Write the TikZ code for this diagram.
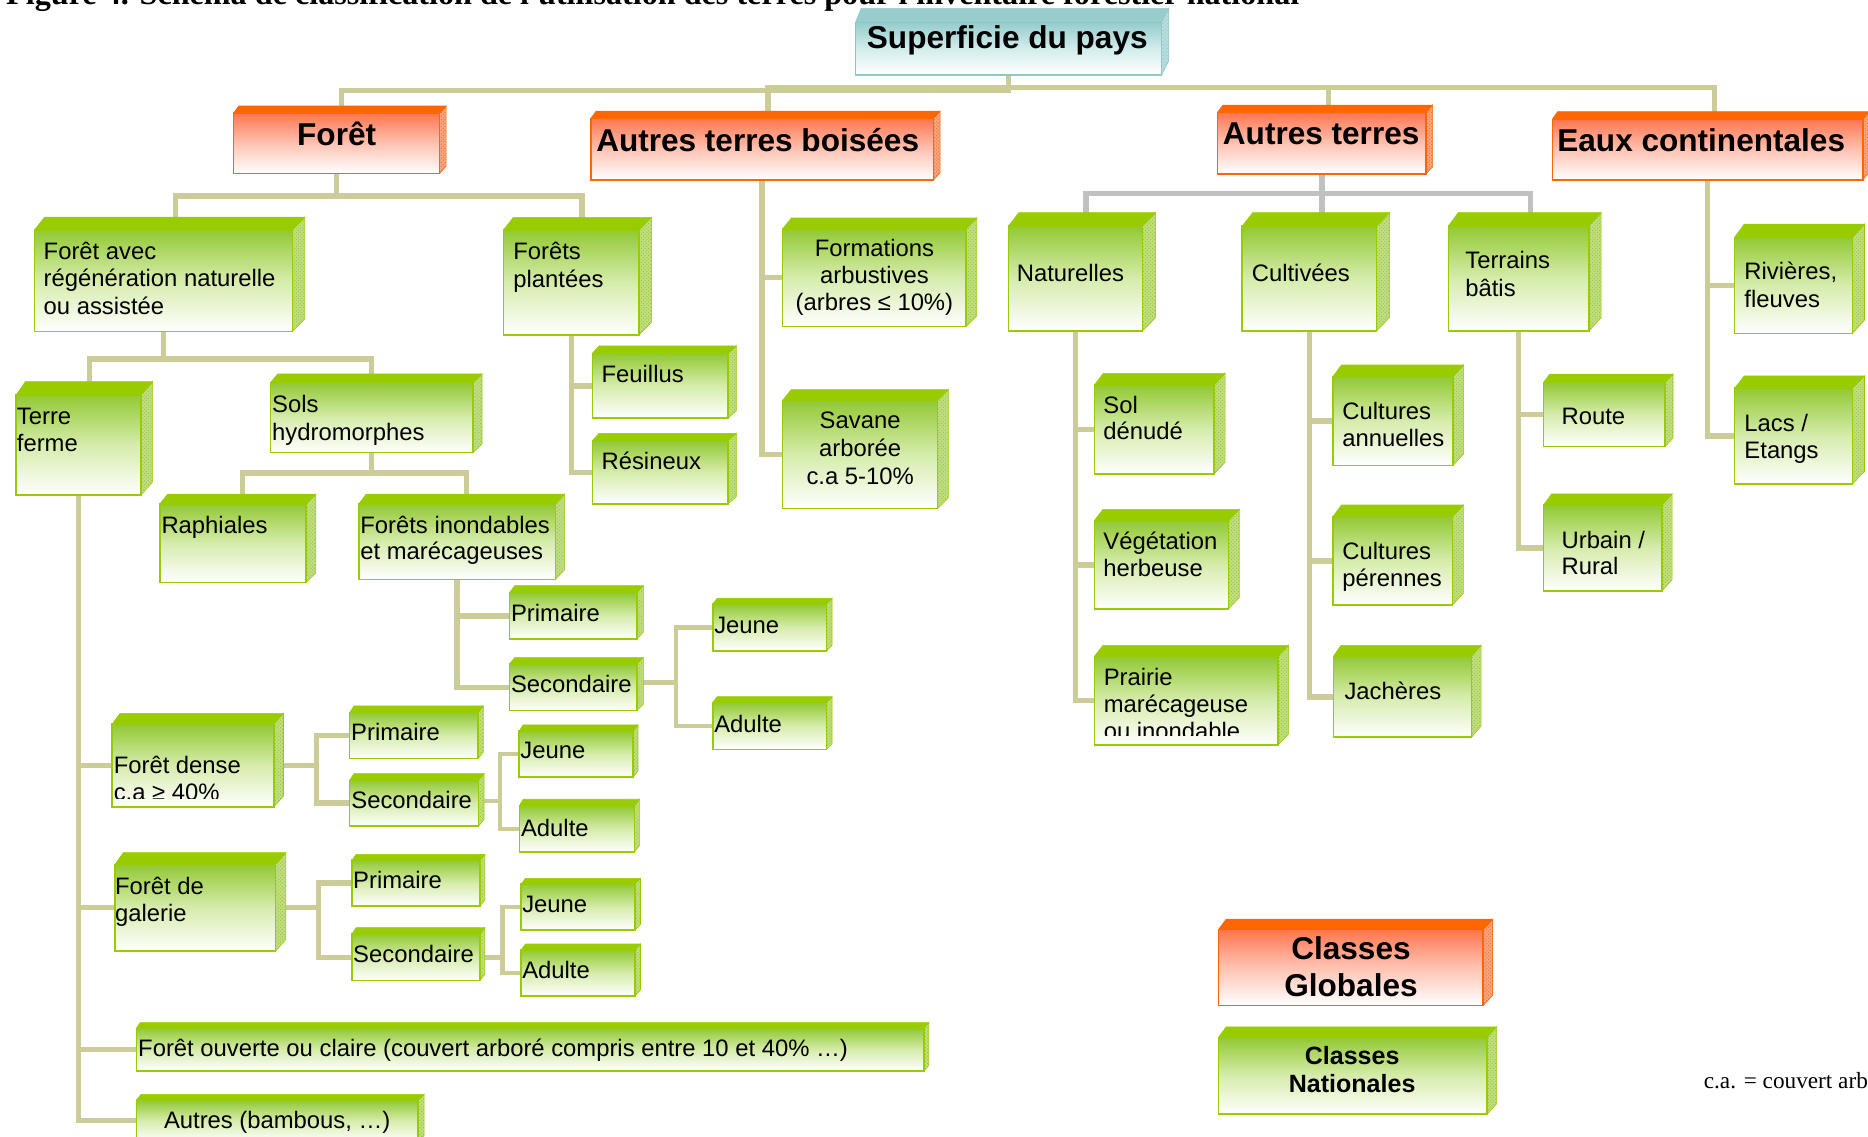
\documentclass[tikz,border=0pt]{standalone}
\usepackage{fontspec}
\setmainfont{Liberation Sans}
\newfontfamily\serifti{Liberation Serif}
\usetikzlibrary{patterns}
\definecolor{gtopc}{RGB}{153,204,0}
\definecolor{gfr1}{RGB}{146,201,52}
\definecolor{gfr2}{RGB}{214,236,172}
\definecolor{gsidec}{RGB}{192,222,125}
\definecolor{gdot}{RGB}{150,190,70}
\definecolor{glinec}{RGB}{153,204,0}
\definecolor{otopc}{RGB}{255,102,0}
\definecolor{ofr1}{RGB}{255,118,80}
\definecolor{ofr2}{RGB}{255,194,178}
\definecolor{osidec}{RGB}{245,165,125}
\definecolor{odot}{RGB}{225,110,60}
\definecolor{olinec}{RGB}{255,102,0}
\definecolor{ttopc}{RGB}{153,204,204}
\definecolor{tfr1}{RGB}{150,205,205}
\definecolor{tfr2}{RGB}{212,236,236}
\definecolor{tsidec}{RGB}{185,222,222}
\definecolor{tdot}{RGB}{140,190,190}
\definecolor{tlinec}{RGB}{140,200,200}
\definecolor{khaki}{RGB}{204,204,153}
\definecolor{greyc}{RGB}{192,192,192}
\pgfdeclarelayer{back}
\pgfdeclarelayer{bg}
\pgfsetlayers{back,bg,main}
\tikzset{
  g-front/.style={draw=glinec, line width=1.3pt, top color=gfr1, bottom color=white, middle color=gfr2, inner sep=0pt, outer sep=0pt},
  g-top/.style={fill=gtopc, draw=gtopc, line width=0.5pt},
  g-side/.style={fill=gsidec, draw=glinec, line width=0.5pt, postaction={pattern=crosshatch dots, pattern color=gdot}},
  o-front/.style={draw=olinec, line width=1.3pt, top color=ofr1, bottom color=white, middle color=ofr2, inner sep=0pt, outer sep=0pt},
  o-top/.style={fill=otopc, draw=otopc, line width=0.5pt},
  o-side/.style={fill=osidec, draw=olinec, line width=0.5pt, postaction={pattern=crosshatch dots, pattern color=odot}},
  t-front/.style={draw=tlinec, line width=1.3pt, top color=tfr1, bottom color=white, middle color=tfr2, inner sep=0pt, outer sep=0pt},
  t-top/.style={fill=ttopc, draw=ttopc, line width=0.5pt},
  t-side/.style={fill=tsidec, draw=tlinec, line width=0.5pt, postaction={pattern=crosshatch dots, pattern color=tdot}},
  lbl/.style={font=\fontsize{20}{23}\selectfont, inner sep=0pt, outer sep=0pt, text=black},
  hdr/.style={font=\fontsize{26.5}{30}\selectfont\bfseries, inner sep=0pt, outer sep=0pt, text=black},
  hdrs/.style={font=\fontsize{21}{24}\selectfont\bfseries, inner sep=0pt, outer sep=0pt, text=black},
  conn/.style={draw=khaki, line width=4.6pt, line join=miter},
  connthin/.style={draw=khaki, line width=3.8pt, line join=miter},
  conng/.style={draw=greyc, line width=4.6pt, line join=miter},
}
% #1 name, #2 kind, #3 x1, #4 y1, #5 x2, #6 y2, #7 dx, #8 dy
\newcommand\mkbox[8]{%
  \path[#2-side] (#5,#4) -- (#5+#7,#4-#8) -- (#5+#7,#6-#8) -- (#5,#6) -- cycle;
  \path[#2-top] (#3,#4) -- (#3+0.8*#7,#4-#8) -- (#5+#7,#4-#8) -- (#5,#4) -- cycle;
  \node[#2-front, minimum width={#5-#3}, minimum height={#6-#4}] (#1) at ({(#3+#5)/2},{(#4+#6)/2}) {};
}
\newcommand\lblL[4]{\node[lbl,anchor=base west] (#1) at (#2,#3) {#4};}
\newcommand\lblC[4]{\node[lbl,anchor=base] (#1) at (#2,#3) {#4};}
\newcommand\hdC[5]{\node[#5,anchor=base] (#1) at (#2,#3) {#4};}
\begin{document}
\begin{tikzpicture}[x=1pt,y=-1pt]
\useasboundingbox (0,0) rectangle (1568,954);
\clip (0,0) rectangle (1568,954);
\begin{pgfonlayer}{back}
\fill[white] (0,0) rectangle (1568,954);
\end{pgfonlayer}
% title (cut at top)
\node[font=\serifti\bfseries\fontsize{27}{30}\selectfont, inner sep=0pt, anchor=base west] (title) at (5,3.5) {Figure 4. Schéma de classification de l'utilisation des terres pour l'inventaire forestier national};
% ---------------- boxes
\mkbox{sup}{t}{718}{19}{975}{63}{6}{12}
\mkbox{foret}{o}{196}{95}{369}{145.5}{5.5}{6}
\mkbox{atb}{o}{496}{99.3}{783.6}{151}{5.5}{6}
\mkbox{at}{o}{1022}{94.3}{1197}{146}{5.5}{6}
\mkbox{eaux}{o}{1303}{100.2}{1563.6}{151}{5.5}{6.5}
\mkbox{fa}{g}{29}{193}{245.4}{278.4}{10.5}{10.7}
\mkbox{fp}{g}{422.6}{193}{536.5}{281}{10.5}{10.6}
\mkbox{tf}{g}{13.5}{331.6}{118.4}{415.6}{9.7}{11.2}
\mkbox{sols}{g}{227}{321.2}{397}{380}{7.6}{7.3}
\mkbox{feu}{g}{497.2}{296.6}{611}{351}{7}{6.2}
\mkbox{res}{g}{497.2}{369.9}{611}{423}{7}{6.1}
\mkbox{raph}{g}{134.2}{423}{257}{489}{8.2}{8.3}
\mkbox{fi}{g}{301.2}{423}{466.3}{486.3}{7.7}{8.3}
\mkbox{primA}{g}{427.7}{497.5}{534.6}{536.4}{5.4}{5.9}
\mkbox{secA}{g}{427.7}{557.4}{534.6}{596.5}{5.4}{5.4}
\mkbox{jeuneA}{g}{598.3}{507}{693.8}{546.5}{4.6}{4.8}
\mkbox{adulteA}{g}{598.3}{589.6}{693.8}{629}{4.6}{4.8}
\mkbox{fd}{g}{94.2}{607.7}{229.8}{677.2}{8.2}{8.9}
\mkbox{primB}{g}{293.5}{598.2}{401.3}{636.8}{4.5}{5.6}
\mkbox{secB}{g}{293.5}{655}{401.8}{693.4}{4.5}{5.6}
\mkbox{jeuneB}{g}{435.8}{613.7}{531.4}{652.3}{4.1}{5.3}
\mkbox{adulteB}{g}{435.9}{676.4}{532.6}{715.2}{4.1}{5.5}
\mkbox{fg}{g}{96.6}{725.5}{231.4}{798.3}{8.6}{9.8}
\mkbox{primC}{g}{295.5}{722}{402.8}{760.5}{4.2}{4.8}
\mkbox{secC}{g}{295.5}{784}{402.8}{823}{4.2}{5.3}
\mkbox{jeuneC}{g}{437.4}{742}{533}{780.7}{4.6}{4.7}
\mkbox{adulteC}{g}{437.4}{797.4}{533}{836}{4.6}{5}
\mkbox{fo}{g}{114.4}{863.2}{775.7}{898.9}{4}{4.8}
\mkbox{aut}{g}{114.4}{923.4}{351}{958}{5}{4.8}
\mkbox{form}{g}{657}{192}{811}{274}{9}{9}
\mkbox{sav}{g}{657}{336}{787}{427}{9}{9}
\mkbox{nat}{g}{846.4}{189.8}{959}{277.9}{11}{11.3}
\mkbox{cult}{g}{1042.7}{189.8}{1155.4}{277.9}{11}{11.3}
\mkbox{terr}{g}{1215.7}{189.8}{1333.6}{277.9}{10.4}{11.3}
\mkbox{sol}{g}{918.6}{323.2}{1019}{397.9}{9.3}{9.8}
\mkbox{veg}{g}{918.6}{437}{1031.2}{511.1}{9}{9.5}
\mkbox{prai}{g}{918.6}{551}{1072.7}{625.3}{9}{9.3}
\mkbox{ca}{g}{1118.8}{316.2}{1219.5}{390.9}{9}{9.8}
\mkbox{cp}{g}{1118.8}{433.7}{1219.4}{507.7}{9}{9.8}
\mkbox{jach}{g}{1119.2}{551}{1235.2}{618.8}{8}{9.3}
\mkbox{route}{g}{1295.6}{321}{1397.8}{374.8}{6.5}{7}
\mkbox{urb}{g}{1295.6}{424}{1395}{496}{8.5}{9.4}
\mkbox{riv}{g}{1456}{199.2}{1555}{279.8}{10}{11}
\mkbox{lacs}{g}{1456}{325.9}{1555}{406.2}{10}{10.3}
\mkbox{glob}{o}{1022.8}{780.2}{1245}{844}{8}{8.6}
\mkbox{natl}{g}{1022.8}{870.7}{1248.3}{935.2}{8}{8.7}
% ---------------- texts
\hdC{sup1}{845.5}{40.6}{Superficie du pays}{hdr}
\hdC{foret1}{282.6}{122.3}{Forêt}{hdr}
\hdC{atb1}{636}{127.3}{Autres terres boisées}{hdr}
\hdC{at1}{1109}{121.7}{Autres terres}{hdr}
\hdC{eaux1}{1428}{127.3}{Eaux continentales}{hdr}
\hdC{glob1}{1134}{805.8}{Classes}{hdr}
\hdC{glob2}{1134}{836.7}{Globales}{hdr}
\hdC{natl1}{1135}{893.5}{Classes}{hdrs}
\hdC{natl2}{1135}{916.7}{Nationales}{hdrs}
\lblL{fa1}{36.7}{217.4}{Forêt avec}
\lblL{fa2}{36.7}{240.6}{régénération naturelle}
\lblL{fa3}{36.7}{263.6}{ou assistée}
\lblL{fp1}{430.9}{218.2}{Forêts}
\lblL{fp2}{430.9}{241.2}{plantées}
\lblL{tf1}{14.2}{356.2}{Terre}
\lblL{tf2}{14.2}{378.6}{ferme}
\lblL{sols1}{228.5}{346.1}{Sols}
\lblL{sols2}{228.5}{369.4}{hydromorphes}
\lblL{feu1}{505}{321.2}{Feuillus}
\lblL{res1}{505}{394.5}{Résineux}
\lblL{raph1}{135.6}{447.7}{Raphiales}
\lblL{fi1}{302.5}{447.7}{Forêts inondables}
\lblL{fi2}{302.5}{470}{et marécageuses}
\lblL{primA1}{429}{521.8}{Primaire}
\lblL{secA1}{429}{581.5}{Secondaire}
\lblL{jeuneA1}{599.6}{531.6}{Jeune}
\lblL{adulteA1}{599.6}{614.8}{Adulte}
\begin{scope}
\clip (94.2,607.7) rectangle (229.8,670);
\lblL{fd1}{95.5}{649.2}{Forêt dense}
\lblL{fd2}{95.5}{672}{c.a ≥ 40\%}
\end{scope}
\lblL{primB1}{294.8}{621.9}{Primaire}
\lblL{secB1}{295}{678.5}{Secondaire}
\lblL{jeuneB1}{436.8}{636.5}{Jeune}
\lblL{adulteB1}{437.4}{702.3}{Adulte}
\lblL{fg1}{96.6}{750.9}{Forêt de}
\lblL{fg2}{96.6}{773.3}{galerie}
\lblL{primC1}{296.5}{745.7}{Primaire}
\lblL{secC1}{296.5}{808.2}{Secondaire}
\lblL{jeuneC1}{438.4}{766.1}{Jeune}
\lblL{adulteC1}{438.4}{821.4}{Adulte}
\lblL{fo1}{116}{887}{Forêt ouverte ou claire (couvert arboré compris entre 10 et 40\% …)}
\lblC{aut1}{232.7}{947}{Autres (bambous, …)}
\lblC{form1}{734}{215}{Formations}
\lblC{form2}{734}{238}{arbustives}
\lblC{form3}{734}{261}{(arbres ≤ 10\%)}
\lblC{sav1}{722}{360}{Savane}
\lblC{sav2}{722}{383}{arborée}
\lblC{sav3}{722}{407}{c.a 5-10\%}
\lblL{nat1}{853.5}{236.4}{Naturelles}
\lblL{cult1}{1050.8}{236.4}{Cultivées}
\lblL{terr1}{1230}{225.3}{Terrains}
\lblL{terr2}{1230}{249}{bâtis}
\lblL{sol1}{926.2}{347}{Sol}
\lblL{sol2}{926.2}{369.3}{dénudé}
\lblL{veg1}{926.2}{461.6}{Végétation}
\lblL{veg2}{926.2}{484}{herbeuse}
\begin{scope}
\clip (918.6,551) rectangle (1072.7,617.6);
\lblL{prai1}{926.5}{575}{Prairie}
\lblL{prai2}{926.5}{598}{marécageuse}
\lblL{prai3}{926.5}{621}{ou inondable}
\end{scope}
\lblL{ca1}{1126.8}{352.5}{Cultures}
\lblL{ca2}{1126.8}{374.9}{annuelles}
\lblL{cp1}{1126.8}{470}{Cultures}
\lblL{cp2}{1126.8}{492.5}{pérennes}
\lblL{jach1}{1128.6}{587}{Jachères}
\lblL{route1}{1310.8}{356.7}{Route}
\lblL{urb1}{1310.8}{460.2}{Urbain /}
\lblL{urb2}{1310.8}{482.6}{Rural}
\lblL{riv1}{1464.3}{235}{Rivières,}
\lblL{riv2}{1464.3}{258}{fleuves}
\lblL{lacs1}{1464.3}{362.4}{Lacs /}
\lblL{lacs2}{1464.3}{384.8}{Etangs}
\node[font=\serifti\fontsize{19.5}{22}\selectfont, inner sep=0pt, anchor=base west] (note) at (1430,913.5) {c.a. = couvert arboré};
% ---------------- connectors
\begin{pgfonlayer}{bg}
\draw[conn] (sup.south) -- ++(0,13) -| ([xshift=4pt]foret.north);
\draw[conn] ([xshift=5pt]atb.north) -- ++(0,-26) -| ([xshift=6pt]eaux.north);
\draw[conn] (sup.south) -- ++(0,10.5) -| ([xshift=5.5pt]at.north);
\draw[conn] (foret.south) -- ++(0,19) -| ([xshift=10pt]fa.north);
\draw[conn] (foret.south) -- ++(0,19) -| ([xshift=9pt]fp.north);
\draw[conn] (fa.south) -- ++(0,23) -| ([xshift=9pt]tf.north);
\draw[conn] (fa.south) -- ++(0,23) -| (sols.north);
\draw[conn] (sols.south) -- ++(0,17) -| ([xshift=8pt]raph.north);
\draw[conn] (sols.south) -- ++(0,17) -| ([xshift=8pt]fi.north);
\draw[conn] (fi.south) |- (primA.west);
\draw[conn] (fi.south) |- (secA.west);
\draw[connthin] ([yshift=4pt]secA.east) -- ++(33,0) |- (jeuneA.west);
\draw[connthin] ([yshift=4pt]secA.east) -- ++(33,0) |- (adulteA.west);
\draw[conn] (tf.south) |- (fd.west);
\draw[conn] (tf.south) |- (fg.west);
\draw[conn] (tf.south) |- (fo.west);
\draw[conn] (tf.south) |- (aut.west);
\draw[conn] (fd.east) -- ++(36,0) |- (primB.west);
\draw[conn] (fd.east) -- ++(36,0) |- (secB.west);
\draw[connthin] ([yshift=2pt]secB.east) -- ++(18,0) |- (jeuneB.west);
\draw[connthin] ([yshift=2pt]secB.east) -- ++(18,0) |- (adulteB.west);
\draw[conn] (fg.east) -- ++(36,0) |- (primC.west);
\draw[conn] (fg.east) -- ++(36,0) |- (secC.west);
\draw[connthin] (secC.east) -- ++(19,0) |- (jeuneC.west);
\draw[connthin] (secC.east) -- ++(19,0) |- (adulteC.west);
\draw[conn] (atb.south) |- (form.west);
\draw[conn] (atb.south) |- (sav.west);
\draw[conn] (fp.south) |- (feu.west);
\draw[conn] (fp.south) |- (res.west);
\draw[conng] (at.south) -- ++(0,16.5) -| ([xshift=9pt]nat.north);
\draw[conng] (at.south) -- ++(0,16.5) -| ([xshift=10.5pt]cult.north);
\draw[conng] (at.south) -- ++(0,16.5) -| ([xshift=10pt]terr.north);
\draw[conn] (nat.south) |- (sol.west);
\draw[conn] (nat.south) |- (veg.west);
\draw[conn] (nat.south) |- (prai.west);
\draw[conn] (cult.south) |- (ca.west);
\draw[conn] (cult.south) |- (cp.west);
\draw[conn] (cult.south) |- (jach.west);
\draw[conn] (terr.south) |- (route.west);
\draw[conn] (terr.south) |- (urb.west);
\draw[conn] (eaux.south) |- (riv.west);
\draw[conn] (eaux.south) |- (lacs.west);
\end{pgfonlayer}
\end{tikzpicture}
\end{document}
